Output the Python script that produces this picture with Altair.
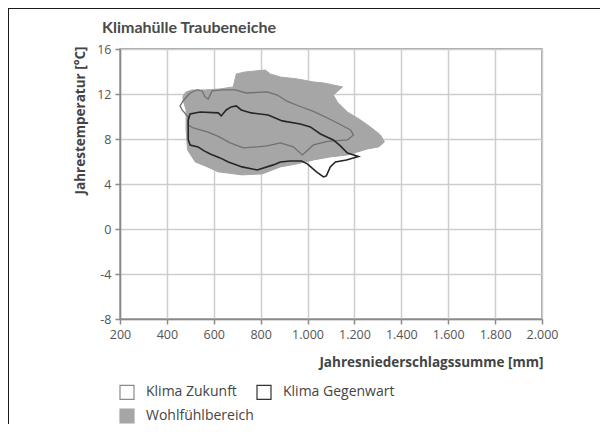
import altair as alt
import pandas as pd

# ---- data ----
series_names = ["Klima Zukunft", "Klima Gegenwart", "Wohlfühlbereich"]

x_ticks = [200, 400, 600, 800, 1000, 1200, 1400, 1600, 1800, 2000]
y_ticks = [-8, -4, 0, 4, 8, 12, 16]

wohl_x = [469, 482, 508, 563, 627, 683, 696, 734, 820, 841, 884, 956, 1025, 1068, 1149,
          1110, 1127, 1170, 1226, 1268, 1311, 1328, 1303, 1256, 1213, 1170, 1097, 1025,
          956, 884, 807, 721, 619, 563, 521, 488, 482, 482, 469]
wohl_y = [11.83, 12.18, 12.36, 12.36, 12.45, 12.63, 13.78, 13.96, 14.13, 13.78, 13.51,
          13.34, 13.07, 12.98, 12.63, 11.91, 11.29, 10.40, 9.69, 9.07, 8.36, 7.74, 7.30,
          7.12, 6.85, 6.58, 6.41, 6.14, 5.79, 5.52, 4.90, 4.81, 5.08, 5.61, 5.96, 7.03,
          8.81, 10.58, 11.47]

geg_x = [491, 499, 542, 619, 632, 653, 674, 696, 717, 760, 832, 892, 969, 1012, 1055,
         1110, 1140, 1170, 1217, 1166, 1119, 1097, 1080, 1068, 1038, 999, 974, 926, 884,
         854, 785, 721, 662, 627, 585, 559, 533, 499, 491]
geg_y = [9.69, 10.23, 10.40, 10.32, 10.05, 10.58, 10.85, 10.94, 10.58, 10.32, 10.14, 9.61,
         9.34, 9.07, 8.45, 7.92, 7.39, 6.76, 6.45, 6.14, 5.96, 5.52, 4.72, 4.63, 5.08, 5.79,
         6.05, 6.05, 5.96, 5.70, 5.25, 5.52, 5.96, 6.32, 6.67, 6.94, 7.30, 7.47, 7.92]

zuk_x = [499, 529, 550, 563, 576, 593, 636, 691, 738, 785, 828, 871, 914, 969, 1025,
         1085, 1140, 1183, 1196, 1170, 1085, 1025, 978, 939, 884, 828, 785, 726, 670, 615,
         572, 512, 491, 491, 465, 456, 469]
zuk_y = [12.09, 12.36, 12.27, 11.74, 11.56, 12.27, 12.36, 12.36, 12.09, 12.14, 12.18,
         11.91, 11.34, 10.89, 10.45, 9.87, 9.29, 8.81, 8.36, 7.92, 7.79, 7.47, 6.58, 7.30,
         7.65, 7.39, 7.30, 7.21, 7.65, 8.27, 8.63, 8.98, 9.25, 9.96, 10.58, 10.94, 11.38]


def poly(xs, ys, name):
    xs = list(xs) + [xs[0]]
    ys = list(ys) + [ys[0]]
    return pd.DataFrame({"x": xs, "y": ys, "i": list(range(len(xs))), "series": name})


df_w = poly(wohl_x, wohl_y, "Wohlfühlbereich")
df_g = poly(geg_x, geg_y, "Klima Gegenwart")
df_z = poly(zuk_x, zuk_y, "Klima Zukunft")

FONT = "Open Sans"
GRAY_FILL = "#a6a6a6"

xscale = alt.Scale(domain=[200, 2000], nice=False, zero=False)
yscale = alt.Scale(domain=[-8, 16], nice=False, zero=False)

xaxis = alt.Axis(
    values=x_ticks, title="Jahresniederschlagssumme [mm]",
    labelExpr="replace(format(datum.value, ','), ',', '.')",
    labelFlush=False, labelOverlap=False,
    grid=True, gridColor="#cdcdcd", gridWidth=1.5,
    domainColor="#8a8a8a", domainWidth=1.5,
    tickColor="#8a8a8a", tickWidth=1.5, tickSize=5,
    labelFont=FONT, labelFontSize=12.5, labelColor="#555555", labelPadding=4,
    titleFont=FONT, titleFontSize=13.5, titleFontWeight="bold", titleColor="#444444",
    titleX=423, titleY=43, titleAlign="right", titleBaseline="middle",
)
yaxis = alt.Axis(
    values=y_ticks, title="Jahrestemperatur [°C]",
    labelExpr="replace(format(datum.value, 'd'), '\u2212', '-')",
    labelFlush=False,
    grid=True, gridColor="#cdcdcd", gridWidth=1.5,
    domainColor="#8a8a8a", domainWidth=1.5,
    tickColor="#8a8a8a", tickWidth=1.5, tickSize=5,
    labelFont=FONT, labelFontSize=12.5, labelColor="#555555", labelPadding=4,
    titleFont=FONT, titleFontSize=13.5, titleFontWeight="bold", titleColor="#444444",
    titleX=-40, titleY=-3, titleAngle=270, titleAlign="right", titleBaseline="middle",
)

wohl = alt.Chart(df_w).mark_line(fill=GRAY_FILL, stroke=GRAY_FILL, strokeWidth=1).encode(
    x=alt.X("x:Q", scale=xscale, axis=xaxis),
    y=alt.Y("y:Q", scale=yscale, axis=yaxis),
    order="i:Q",
)
zuk = alt.Chart(df_z).mark_line(stroke="#707070", strokeWidth=1.3).encode(
    x="x:Q", y="y:Q", order="i:Q"
)
geg = alt.Chart(df_g).mark_line(stroke="#262626", strokeWidth=1.6).encode(
    x="x:Q", y="y:Q", order="i:Q"
)

leg_spec = dict(
    orient="none", legendX=-1, legendY=335, title=None, columns=2, direction="horizontal",
    symbolType="square", symbolSize=196, symbolStrokeWidth=1.2,
    labelFont=FONT, labelFontSize=14, labelColor="#444444",
    labelOffset=11, columnPadding=0, rowPadding=4,
)
df_leg = pd.DataFrame({"series": series_names, "x": [100] * 3, "y": [0] * 3})
legend_layer = alt.Chart(df_leg).mark_square(size=150, clip=True, opacity=1, strokeWidth=1.2).encode(
    x="x:Q", y="y:Q",
    fill=alt.Fill("series:N", sort=series_names,
                  scale=alt.Scale(domain=series_names, range=["white", "white", GRAY_FILL]),
                  legend=alt.Legend(**leg_spec)),
    stroke=alt.Stroke("series:N", sort=series_names,
                      scale=alt.Scale(domain=series_names, range=["#8a8a8a", "#333333", GRAY_FILL]),
                      legend=alt.Legend(**leg_spec)),
)

frame_src = pd.DataFrame({"k": [0]})
frame_top = alt.Chart(frame_src).mark_rule(color="#1a1a1a", strokeWidth=2).encode(
    x=alt.value(-112), x2=alt.value(480), y=alt.value(-41)
)
frame_left = alt.Chart(frame_src).mark_rule(color="#1a1a1a", strokeWidth=2).encode(
    x=alt.value(-112), y=alt.value(-41), y2=alt.value(400)
)

chart = alt.layer(wohl, zuk, geg, legend_layer, frame_top, frame_left).properties(
    width=422, height=270,
    title=alt.TitleParams("Klimahülle Traubeneiche", anchor="start", frame="group", dx=-18,
                          offset=-29, font="Lato", fontSize=16, fontWeight="bold", color="#4a4a4a"),
    autosize=alt.AutoSizeParams(type="none"),
    padding={"left": 112, "top": 41, "right": 60, "bottom": 105},
).configure_view(stroke="#8a8a8a", strokeWidth=1.5)

chart.save("out.html", embed_options={"renderer": "svg", "actions": False})
